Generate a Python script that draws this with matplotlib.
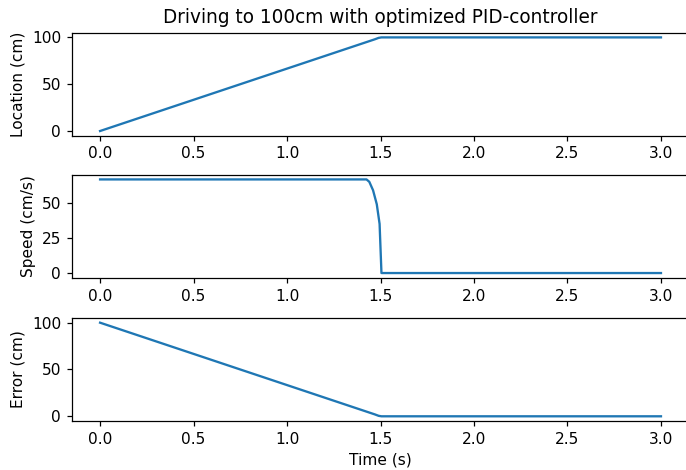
import matplotlib
matplotlib.use("Agg")
import matplotlib.pyplot as plt

# location (cm) over time (s)
loc_t = [0.0, 1.47, 1.49, 1.505, 3.0]
loc_v = [0.0, 98.0, 99.5, 100.0, 100.0]

# speed (cm/s) over time (s)
spd_t = [0.0, 1.425, 1.44, 1.46, 1.48, 1.495, 1.505, 3.0]
spd_v = [66.7, 66.7, 65.0, 59.0, 49.0, 35.0, 0.0, 0.0]

# error (cm) = target - location
target = 100.0
err_t = loc_t
err_v = [target - v for v in loc_v]

dpi = 111
fig = plt.figure(figsize=(686 / dpi, 470 / dpi), dpi=dpi)

left, width, height = 0.105, 0.8994, 0.2191
ax1 = fig.add_axes([left, 0.7113, width, height])
ax2 = fig.add_axes([left, 0.4091, width, height])
ax3 = fig.add_axes([left, 0.1043, width, height])

ax1.plot(loc_t, loc_v)
ax1.set_ylabel("Location (cm)")
ax1.set_title("Driving to 100cm with optimized PID-controller")

ax2.plot(spd_t, spd_v)
ax2.set_ylabel("Speed (cm/s)")

ax3.plot(err_t, err_v)
ax3.set_ylabel("Error (cm)")
ax3.set_xlabel("Time (s)")

plt.savefig("out.png", dpi=dpi)
